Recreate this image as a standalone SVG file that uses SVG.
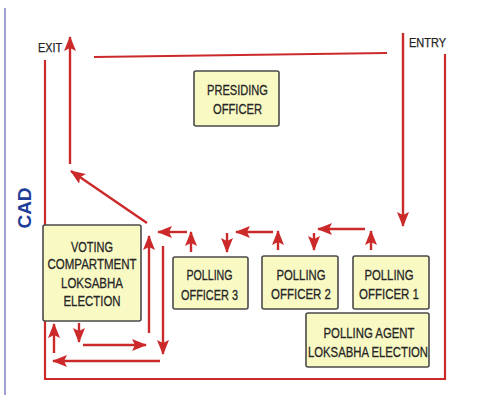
<svg xmlns="http://www.w3.org/2000/svg" width="481" height="403" viewBox="0 0 481 403">
<style>
.box{fill:#f9f9c4;stroke:#4a4a4a;stroke-width:1.6}
.t{font-family:"Liberation Sans",Arial,sans-serif;font-size:15.5px;fill:#262626;stroke:#262626;stroke-width:0.3;text-anchor:middle}
.lbl{font-family:"Liberation Sans",Arial,sans-serif;font-size:13px;fill:#222;stroke:#222;stroke-width:0.25}
.r{stroke:#cc2a2a;stroke-width:2.2;fill:none}
.a{stroke:#cc2a2a;stroke-width:2.4;fill:none;marker-end:url(#ah)}
</style>
<defs>
<marker id="ah" markerUnits="userSpaceOnUse" markerWidth="16" markerHeight="14" refX="14" refY="6" orient="auto">
<path d="M0,0 L15,6 L0,12 L3,6 Z" fill="#cc2a2a"/>
</marker>
</defs>
<rect width="481" height="403" fill="#ffffff"/>
<line x1="5" y1="8" x2="5" y2="395" stroke="#3a3aa0" stroke-width="1.2" opacity="0.8"/>
<text x="24" y="208" transform="rotate(-90 24 208)" font-family="'Liberation Sans',Arial,sans-serif" font-weight="bold" font-size="19" fill="#1f3c96" text-anchor="middle" dominant-baseline="central">CAD</text>
<text class="lbl" x="38" y="52" textLength="24" lengthAdjust="spacingAndGlyphs">EXIT</text>
<text class="lbl" x="409" y="47" textLength="37" lengthAdjust="spacingAndGlyphs">ENTRY</text>
<g id="connectors">
<path class="r" d="M94,57 L387,53"/>
<path class="r" d="M45,60 V379 H445 V54"/>
<path class="a" d="M70,164 V37"/>
<path class="a" d="M403,33 V226"/>
<path class="a" d="M371,250 V231"/>
<path class="a" d="M365,229 H318"/>
<path class="a" d="M314,233 V250"/>
<path class="a" d="M278,250 V231"/>
<path class="a" d="M273,232 H236"/>
<path class="a" d="M227,233 V252"/>
<path class="a" d="M191,252 V232"/>
<path class="a" d="M187,232 H158"/>
<path class="a" d="M147,223 L71,171"/>
<path class="a" d="M149,333 V236"/>
<path class="a" d="M163,246 V354"/>
<path class="a" d="M79,323 V342"/>
<path class="a" d="M83,345 H146"/>
<path class="a" d="M160,361 H53"/>
<path class="a" d="M54,353 V324"/>
</g>
<g id="presiding">
<rect class="box" x="194" y="71" width="85" height="55" rx="2"/>
<text class="t" x="237.5" y="95" textLength="61" lengthAdjust="spacingAndGlyphs">PRESIDING</text>
<text class="t" x="237.5" y="114" textLength="49" lengthAdjust="spacingAndGlyphs">OFFICER</text>
</g>
<g id="voting">
<rect class="box" x="43" y="225" width="98" height="96" rx="2"/>
<text class="t" x="92" y="252" textLength="42" lengthAdjust="spacingAndGlyphs">VOTING</text>
<text class="t" x="92" y="269" textLength="89" lengthAdjust="spacingAndGlyphs">COMPARTMENT</text>
<text class="t" x="92" y="288" textLength="62" lengthAdjust="spacingAndGlyphs">LOKSABHA</text>
<text class="t" x="92" y="306" textLength="57" lengthAdjust="spacingAndGlyphs">ELECTION</text>
</g>
<g id="po3">
<rect class="box" x="173" y="257" width="75" height="52" rx="2"/>
<text class="t" x="209.5" y="280" textLength="46" lengthAdjust="spacingAndGlyphs">POLLING</text>
<text class="t" x="209.5" y="300" textLength="57" lengthAdjust="spacingAndGlyphs">OFFICER 3</text>
</g>
<g id="po2">
<rect class="box" x="262" y="256" width="76" height="53" rx="2"/>
<text class="t" x="301" y="280" textLength="49" lengthAdjust="spacingAndGlyphs">POLLING</text>
<text class="t" x="301" y="299" textLength="60" lengthAdjust="spacingAndGlyphs">OFFICER 2</text>
</g>
<g id="po1">
<rect class="box" x="353" y="256" width="76" height="53" rx="2"/>
<text class="t" x="389" y="280" textLength="49" lengthAdjust="spacingAndGlyphs">POLLING</text>
<text class="t" x="389" y="299" textLength="60" lengthAdjust="spacingAndGlyphs">OFFICER 1</text>
</g>
<g id="agent">
<rect class="box" x="306" y="313" width="123" height="54" rx="2"/>
<text class="t" x="369" y="338" textLength="91" lengthAdjust="spacingAndGlyphs">POLLING AGENT</text>
<text class="t" x="368" y="357" textLength="120" lengthAdjust="spacingAndGlyphs">LOKSABHA ELECTION</text>
</g>
</svg>
